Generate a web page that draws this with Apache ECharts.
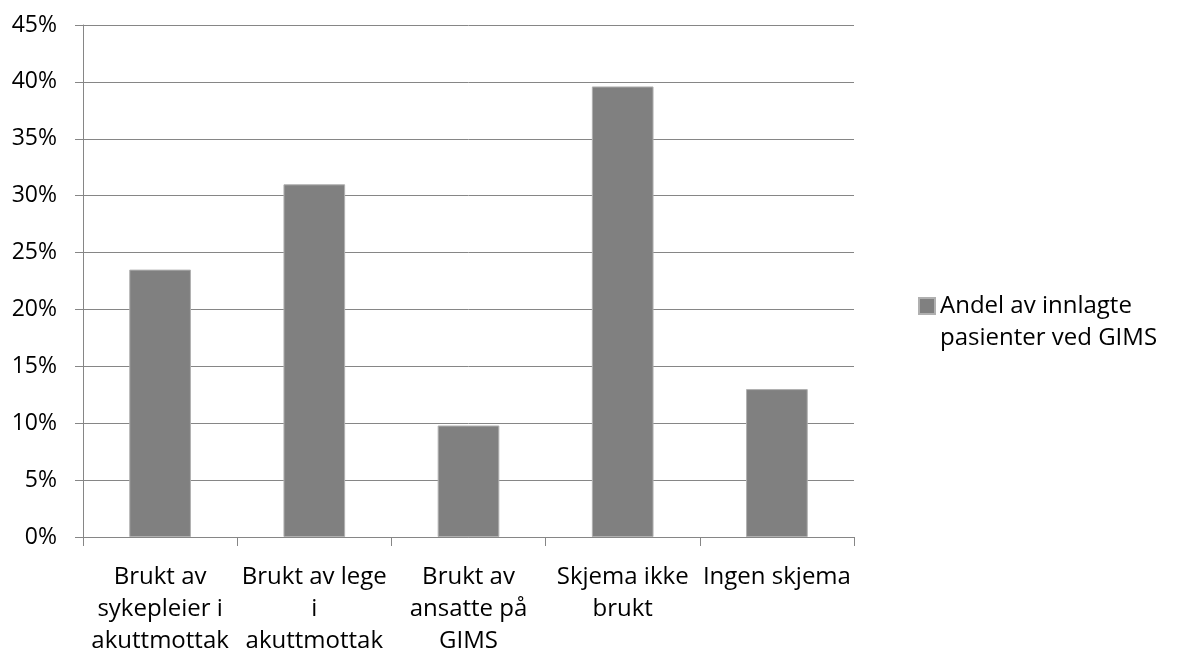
<!DOCTYPE html>
<html>
<head>
<meta charset="utf-8">
<script src="https://cdn.jsdelivr.net/npm/echarts@6/dist/echarts.min.js"></script>
<style>
html,body{margin:0;padding:0;background:#fff;}
#chart{width:1178px;height:653px;}
</style>
</head>
<body>
<div id="chart"></div>
<script>
const categories = [
  "Brukt av\nsykepleier i\nakuttmottak",
  "Brukt av lege\ni\nakuttmottak",
  "Brukt av\nansatte på\nGIMS",
  "Skjema ikke\nbrukt",
  "Ingen skjema"
];
const seriesName = "Andel av innlagte pasienter ved GIMS";
const values = [0.235, 0.31, 0.098, 0.396, 0.13];
const yMin = 0, yMax = 0.45, yStep = 0.05;

const FONT = "Open Sans";
const chart = echarts.init(document.getElementById('chart'), null, {renderer: 'canvas'});
chart.setOption({
  animation: false,
  backgroundColor: '#ffffff',
  grid: {left: 83, right: 324, top: 25, bottom: 116, containLabel: false, outerBoundsMode: 'none'},
  legend: {
    left: 918, top: 258,
    orient: 'vertical',
    itemWidth: 16, itemHeight: 16,
    padding: 0,
    icon: 'rect',
    data: [seriesName],
    formatter: function (name) { return '\n' + name.replace(' pasienter', '\npasienter'); },
    textStyle: {
      fontFamily: FONT, fontSize: 24, color: '#000', lineHeight: 32
    }
  },
  xAxis: {
    type: 'category',
    data: categories,
    boundaryGap: true,
    axisLine: {show: true, lineStyle: {color: '#868686', width: 1}},
    axisTick: {show: true, length: 9, alignWithLabel: false, lineStyle: {color: '#868686'}},
    axisLabel: {
      interval: 0, margin: 24, color: '#000',
      fontFamily: FONT, fontSize: 24, lineHeight: 32, align: 'center'
    },
    splitLine: {show: false}
  },
  yAxis: {
    type: 'value',
    min: yMin, max: yMax, interval: yStep,
    axisLine: {show: true, lineStyle: {color: '#868686', width: 1}},
    axisTick: {show: true, length: 8, lineStyle: {color: '#868686'}},
    axisLabel: {
      margin: 26, color: '#000', fontFamily: FONT, fontSize: 23,
      formatter: function (v) { return Math.round(v * 100) + '%'; }
    },
    splitLine: {show: true, lineStyle: {color: '#868686', width: 1}}
  },
  series: [{
    name: seriesName,
    type: 'bar',
    data: values,
    barCategoryGap: '60%',
    itemStyle: {color: '#808080', borderColor: '#b0b0b0', borderWidth: 1}
  }]
});
</script>
</body>
</html>
